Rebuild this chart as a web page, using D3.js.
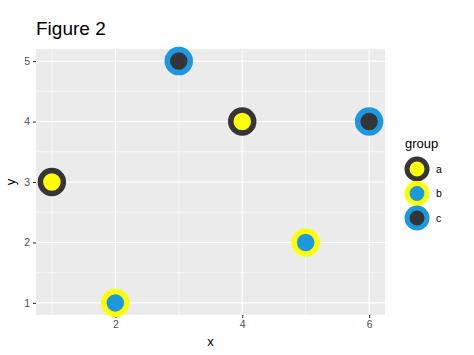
<!DOCTYPE html>
<html><head><meta charset="utf-8">
<script src="https://cdn.jsdelivr.net/npm/d3@7"></script>
<style>body{margin:0;background:#fff}svg{font-family:"Liberation Sans",Arial,sans-serif}</style>
</head><body><svg id="c" width="474" height="355"></svg>
<script>
const xs = [1, 2, 3, 4, 5, 6];
const ys = [3, 1, 5, 4, 2, 4];
const groups = ["a", "b", "c", "a", "b", "c"];
const groupNames = ["a", "b", "c"];
const fillColors = ["#ffff00", "#1b98e0", "#353436"];
const strokeColors = ["#353436", "#ffff00", "#1b98e0"];
const xTicks = [2, 4, 6];
const yTicks = [1, 2, 3, 4, 5];

const svg = d3.select("#c");
const L = 36, R = 385, T = 49, B = 315;
const x = d3.scaleLinear().domain([0.75, 6.25]).range([L, R]);
const y = d3.scaleLinear().domain([0.8, 5.2]).range([B, T]);
const fillS = d3.scaleOrdinal().domain(groupNames).range(fillColors);
const strokeS = d3.scaleOrdinal().domain(groupNames).range(strokeColors);

svg.append("rect").attr("x", L).attr("y", T).attr("width", R - L).attr("height", B - T).attr("fill", "#ebebeb");
const xMinor = [1, 3, 5], yMinor = [1.5, 2.5, 3.5, 4.5];
svg.selectAll(".xm").data(xMinor).enter().append("line").attr("x1", d => x(d)).attr("x2", d => x(d)).attr("y1", T).attr("y2", B).attr("stroke", "#fff").attr("stroke-width", 0.55);
svg.selectAll(".ym").data(yMinor).enter().append("line").attr("y1", d => y(d)).attr("y2", d => y(d)).attr("x1", L).attr("x2", R).attr("stroke", "#fff").attr("stroke-width", 0.55);
svg.selectAll(".xM").data(xTicks).enter().append("line").attr("x1", d => x(d)).attr("x2", d => x(d)).attr("y1", T).attr("y2", B).attr("stroke", "#fff").attr("stroke-width", 1.1);
svg.selectAll(".yM").data(yTicks).enter().append("line").attr("y1", d => y(d)).attr("y2", d => y(d)).attr("x1", L).attr("x2", R).attr("stroke", "#fff").attr("stroke-width", 1.1);

const xa = svg.append("g").attr("transform", `translate(0,${B})`).call(d3.axisBottom(x).tickValues(xTicks).tickSize(3).tickPadding(3).tickFormat(d3.format("d")));
const ya = svg.append("g").attr("transform", `translate(${L},0)`).call(d3.axisLeft(y).tickValues(yTicks).tickSize(3).tickPadding(3).tickFormat(d3.format("d")));
[xa, ya].forEach(a => {
  a.attr("font-family", "Liberation Sans, Arial, sans-serif").attr("font-size", 10.5);
  a.select(".domain").remove();
  a.selectAll(".tick line").attr("stroke", "#333").attr("stroke-width", 1.1);
  a.selectAll(".tick text").attr("fill", "#4d4d4d");
});

svg.selectAll(".pt").data(xs.map((d, i) => ({ x: d, y: ys[i], g: groups[i] }))).enter().append("circle")
  .attr("cx", d => x(d.x)).attr("cy", d => y(d.y)).attr("r", 11.5)
  .attr("fill", d => fillS(d.g)).attr("stroke", d => strokeS(d.g)).attr("stroke-width", 5.5);

svg.append("text").attr("x", 36).attr("y", 35).text("Figure 2").style("font-size", "19px").attr("fill", "#000");
svg.append("text").attr("x", (L + R) / 2).attr("y", 346).attr("text-anchor", "middle").text("x").style("font-size", "13px");
svg.append("text").attr("transform", `translate(15,${(T + B) / 2}) rotate(-90)`).attr("text-anchor", "middle").text("y").style("font-size", "13px");

const lg = svg.append("g");
lg.append("text").attr("x", 405).attr("y", 148).text("group").style("font-size", "13px");
groupNames.forEach((g, i) => {
  const cy = 169 + i * 24.5;
  lg.append("circle").attr("cx", 417).attr("cy", cy).attr("r", 10).attr("fill", fillS(g)).attr("stroke", strokeS(g)).attr("stroke-width", 5);
  lg.append("text").attr("x", 436).attr("y", cy + 3.5).text(g).style("font-size", "10.5px");
});
</script></body></html>
